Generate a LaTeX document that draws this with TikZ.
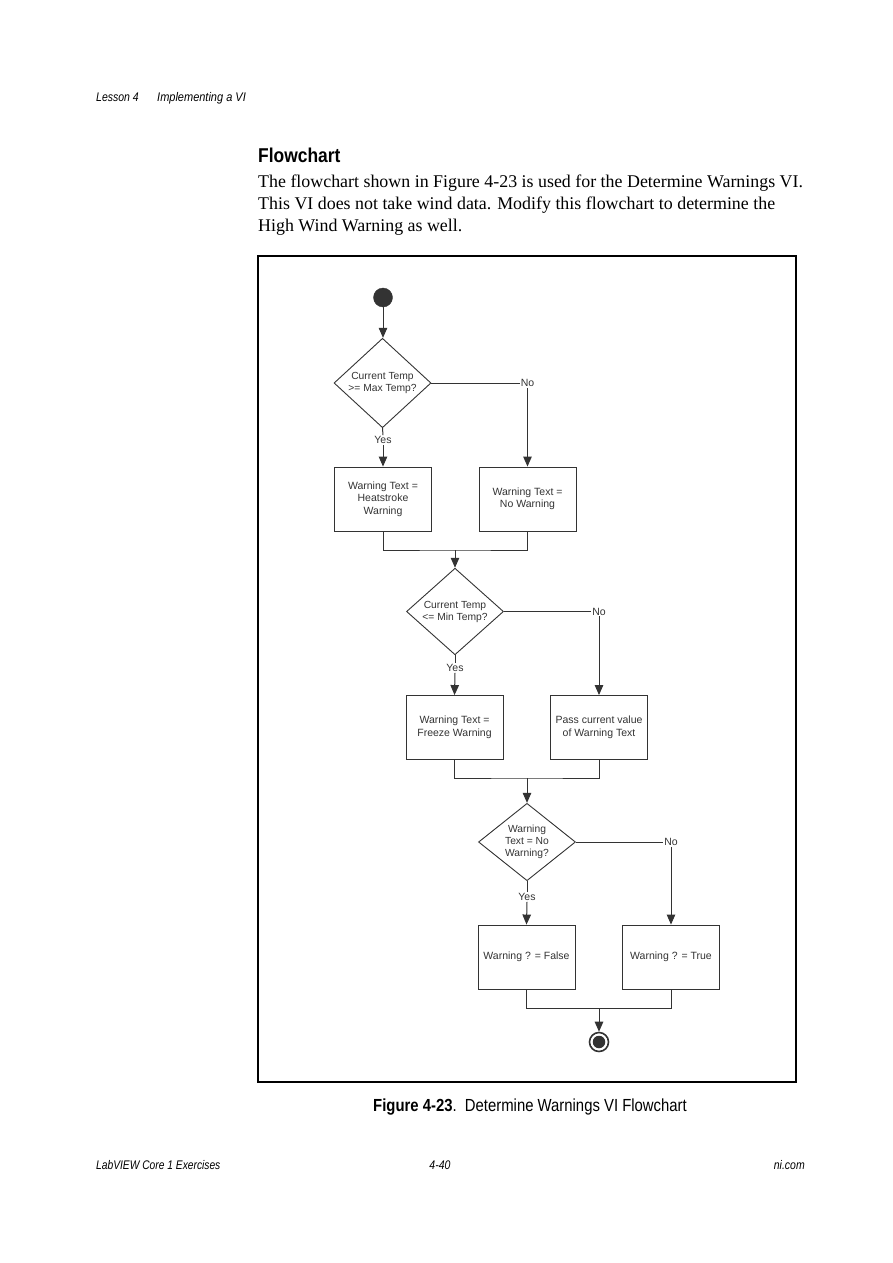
\documentclass[tikz,border=0pt]{standalone}
\usepackage{fontspec}
\setmainfont{Liberation Serif}
\newfontfamily\arialf{Liberation Sans}
\usetikzlibrary{shapes.geometric,arrows.meta}
\definecolor{ink}{HTML}{333333}
\begin{document}
\begin{tikzpicture}[x=1pt,y=-1pt,
  arr/.style={draw=ink,line width=1pt,-{Triangle[length=10pt,width=8.5pt]}},
  ln/.style={draw=ink,line width=1pt},
  dec/.style={diamond,draw=ink,line width=0.9pt,inner sep=0pt,minimum width=97pt,minimum height=72pt,align=center,font=\arialf\fontsize{10.3}{12}\selectfont,text=ink},
  act/.style={rectangle,draw=ink,line width=0.9pt,minimum width=97pt,minimum height=64pt,align=center,font=\arialf\fontsize{10.5}{12.5}\selectfont,text=ink},
  lab/.style={inner sep=1pt,font=\arialf\fontsize{10.5}{12}\selectfont,text=ink},
  hdr/.style={font=\arialf\itshape\fontsize{12.5}{14}\selectfont,inner sep=0pt},
  body/.style={font=\fontsize{17.9}{22}\selectfont,inner sep=0pt,anchor=base west}]
\useasboundingbox (0,0) rectangle (893,1263);
% header
\node[hdr,anchor=base west] (h1) at (96,101) {\scalebox{0.84}[1]{Lesson 4}};
\node[hdr,anchor=base west] (h2) at (157,101) {\scalebox{0.88}[1]{Implementing a VI}};
\node[anchor=base west,inner sep=0pt,font=\arialf\bfseries\fontsize{20}{22}\selectfont] (title) at (258,162) {\scalebox{0.87}[1]{Flowchart}};
\node[body] (p1) at (258,187) {The flowchart shown in Figure 4-23 is used for the Determine Warnings VI.};
\node[body] (p2) at (258,209) {This VI does not take wind data. Modify this flowchart to determine the};
\node[body] (p3) at (258,231) {High Wind Warning as well.};
% frame
\draw[line width=1.1pt] (258,256) rectangle (796,1082);
% start
\node[circle,fill=ink,draw=ink,minimum size=19pt,inner sep=0pt] (start) at (383,297.5) {};
\node[dec] (d1) at (382.5,383) {Current Temp\\>= Max Temp?};
\node[act] (b1) at (383,499) {Warning Text =\\Heatstroke\\Warning};
\node[act] (b2) at (527.5,499) {Warning Text =\\No Warning};
\node[lab] (y1) at (383,440) {Yes};
\node[lab] (n1) at (527.5,383) {No};
\draw[arr] (start) -- (start |- d1.north);
\draw[ln] (d1.south) -- (y1.north);
\draw[arr] (y1.south) -- (b1.north);
\draw[ln] (d1.east) -- (n1.west);
\draw[arr] (n1.south) -- (b2.north);
\coordinate (m1) at (455,550);
\draw[ln] (b1.south) |- (m1) -| (b2.south);
% second decision
\node[dec] (d2) at (455,611.5) {Current Temp\\<= Min Temp?};
\node[act] (b3) at (454.5,727.5) {Warning Text =\\Freeze Warning};
\node[act] (b4) at (599,727.5) {Pass current value\\of Warning Text};
\node[lab] (y2) at (455,668) {Yes};
\node[lab] (n2) at (599,611.5) {No};
\draw[arr] (m1) -- (d2.north);
\draw[ln] (d2.south) -- (y2.north);
\draw[arr] (y2.south) -- (b3.north);
\draw[ln] (d2.east) -- (n2.west);
\draw[arr] (n2.south) -- (b4.north);
\coordinate (m2) at (527,778);
\draw[ln] (b3.south) |- (m2) -| (b4.south);
% third decision
\node[dec] (d3) at (527,842) {Warning\\Text = No\\Warning?};
\node[act] (b5) at (526.5,957) {Warning ? = False};
\node[act] (b6) at (671,957) {Warning ? = True};
\node[lab] (y3) at (527,897) {Yes};
\node[lab] (n3) at (671,842) {No};
\draw[arr] (m2) -- (d3.north);
\draw[ln] (d3.south) -- (y3.north);
\draw[arr] (y3.south) -- (b5.north);
\draw[ln] (d3.east) -- (n3.west);
\draw[arr] (n3.south) -- (b6.north);
\coordinate (m3) at (599,1008);
\draw[ln] (b5.south) |- (m3) -| (b6.south);
% end
\node[circle,draw=ink,line width=1.6pt,minimum size=19pt,inner sep=0pt] (stop) at (599,1042) {};
\node[circle,fill=ink,minimum size=12.5pt,inner sep=0pt] (stopin) at (stop.center) {};
\draw[arr] (m3) -- (stop.north);
% caption
\node[anchor=base west,inner sep=0pt,font=\arialf\fontsize{17.5}{19}\selectfont] (cap) at (373,1111) {\scalebox{0.85}[1]{\textbf{Figure 4-23}.\ \ Determine Warnings VI Flowchart}};
% footer
\node[hdr,anchor=base west] (f1) at (96,1169) {\scalebox{0.82}[1]{LabVIEW Core 1 Exercises}};
\node[hdr,anchor=base] (f2) at (440,1169) {\scalebox{0.84}[1]{4-40}};
\node[hdr,anchor=base east] (f3) at (805,1169) {\scalebox{0.84}[1]{ni.com}};
\end{tikzpicture}
\end{document}
